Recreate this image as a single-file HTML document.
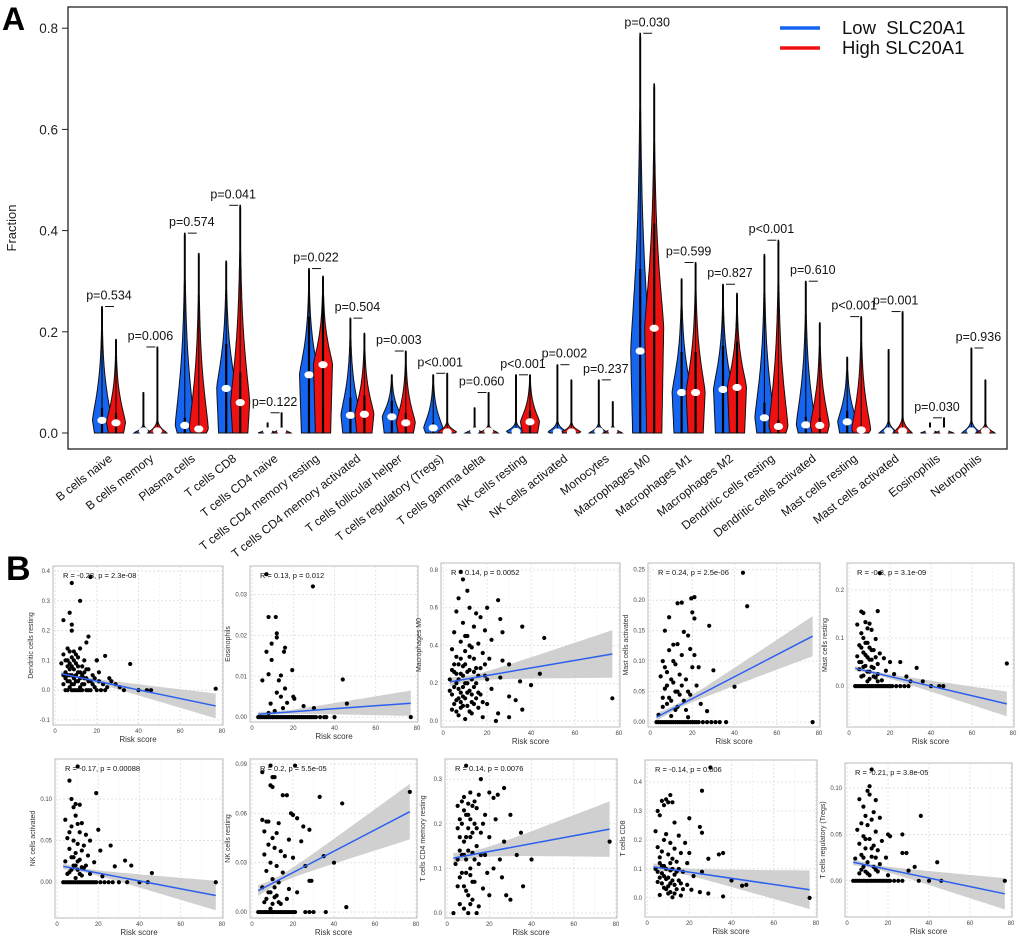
<!DOCTYPE html>
<html><head><meta charset="utf-8"><style>
html,body{margin:0;padding:0;background:#fff;}
svg{display:block;font-family:"Liberation Sans",Arial,sans-serif;}
</style></head><body>
<svg id="fig" width="1020" height="938" viewBox="0 0 1020 938" xmlns="http://www.w3.org/2000/svg">
<g id="panelA"></g>
<g id="panelB"></g>
</svg>
<script>
// ---------- Panel A data ----------
const categories = ["B cells naive","B cells memory","Plasma cells","T cells CD8","T cells CD4 naive","T cells CD4 memory resting","T cells CD4 memory activated","T cells follicular helper","T cells regulatory (Tregs)","T cells gamma delta","NK cells resting","NK cells activated","Monocytes","Macrophages M0","Macrophages M1","Macrophages M2","Dendritic cells resting","Dendritic cells activated","Mast cells resting","Mast cells activated","Eosinophils","Neutrophils"];
const lowMax = [0.25,0.08,0.395,0.34,0.02,0.325,0.227,0.115,0.115,0.05,0.115,0.135,0.105,0.79,0.305,0.294,0.353,0.30,0.15,0.165,0.02,0.168];
const highMax = [0.185,0.17,0.355,0.45,0.04,0.31,0.197,0.162,0.118,0.08,0.115,0.105,0.062,0.69,0.337,0.276,0.381,0.218,0.23,0.24,0.03,0.105];
const lowMedian = [0.025,0,0.015,0.088,0,0.115,0.035,0.032,0.01,0,0.003,0.002,0,0.162,0.08,0.086,0.03,0.016,0.022,0,0,0];
const highMedian = [0.02,0,0.008,0.06,0,0.135,0.037,0.02,0.002,0,0.022,0.002,0,0.207,0.08,0.09,0.013,0.015,0.006,0,0,0];
const pLabels = ["p=0.534","p=0.006","p=0.574","p=0.041","p=0.122","p=0.022","p=0.504","p=0.003","p<0.001","p=0.060","p<0.001","p=0.002","p=0.237","p=0.030","p=0.599","p=0.827","p<0.001","p=0.610","p<0.001","p=0.001","p=0.030","p=0.936"];
const yTicksA = [0,0.2,0.4,0.6,0.8];
const yTickLabelsA = ["0.0","0.2","0.4","0.6","0.8"];

// ---------- Panel B data ----------
const scatterTitles = ["Dendritic cells resting","Eosinophils","Macrophages M0","Mast cells activated","Mast cells resting","NK cells activated","NK cells resting","T cells CD4 memory resting","T cells CD8","T cells regulatory (Tregs)"];
const corrLabels = ["R = -0.28, p = 2.3e-08","R = 0.13, p = 0.012","R = 0.14, p = 0.0052","R = 0.24, p = 2.5e-06","R = -0.3, p = 3.1e-09","R = -0.17, p = 0.00088","R = 0.2, p = 5.5e-05","R = 0.14, p = 0.0076","R = -0.14, p = 0.006","R = -0.21, p = 3.8e-05"];
const yTicksB = [[-0.1,0,0.1,0.2,0.3,0.4],[0,0.01,0.02,0.03],[0,0.2,0.4,0.6,0.8],[0,0.05,0.1,0.15,0.2,0.25],[0,0.1,0.2],[0,0.05,0.1],[0,0.03,0.06,0.09],[0,0.1,0.2,0.3],[0,0.1,0.2,0.3,0.4],[0,0.05,0.1]];
const yTickLabelsB = [["-0.1","0.0","0.1","0.2","0.3","0.4"],["0.00","0.01","0.02","0.03"],["0.0","0.2","0.4","0.6","0.8"],["0.00","0.05","0.10","0.15","0.20","0.25"],["0.0","0.1","0.2"],["0.00","0.05","0.10"],["0.00","0.03","0.06","0.09"],["0.0","0.1","0.2","0.3"],["0.0","0.1","0.2","0.3","0.4"],["0.00","0.05","0.10"]];
const xTicksB = [0,20,40,60,80];
const lineStart = [0.055,0.0007,0.207,0.008,0.037,0.019,0.013,0.123,0.107,0.02];
const lineEnd = [-0.053,0.0034,0.355,0.141,-0.037,-0.016,0.061,0.188,0.028,-0.014];
const bandHalfEnd = [0.047,0.0035,0.142,0.037,0.029,0.02,0.019,0.07,0.075,0.019];
const pts0 = [[4,0.12],[5,0.1],[5,0.06],[6,0.03],[6,0.08],[7,0.01],[7,0.05],[8,0.11],[8,0.02],[9,0.07],[9,0.04],[10,0.0],[10,0.09],[11,0.03],[11,0.06],[12,0.14],[12,0.01],[13,0.05],[13,0.08],[14,0.02],[14,0.1],[15,0.04],[16,0.0],[16,0.07],[17,0.03],[18,0.05],[19,0.01],[20,0.1],[21,0.03],[22,0.0],[23,0.02],[25,0.01],[26,0.04],[27,0.03],[29,0.02],[31,0.01],[33,0.0],[5,0.0],[8,0.0],[12,0.0],[3,0.09],[6,0.14],[10,0.12],[7,0.07],[9,0.02],[11,0.0],[14,0.06],[8,0.36],[17,0.38],[12,0.3],[7,0.26],[4,0.235],[8,0.22],[16,0.18],[15,0.16],[36,0.088],[77,0.005],[40,0],[44,0],[46,0],[24,0.115],[20,0.1],[8,0.2],
  [4,0.02],[5,0.04],[6,0.0],[6,0.05],[7,0.03],[7,0.09],[8,0.05],[8,0.08],[9,0.0],[9,0.1],[10,0.03],[10,0.05],[11,0.08],[11,0.11],[12,0.04],[12,0.06],[13,0.02],[13,0.0],[14,0.04],[15,0.0],[15,0.07],[16,0.03],[17,0.0],[18,0.02],[19,0.04],[20,0.0],[21,0.06],[24,0.0],[4,0.05],[6,0.1],[9,0.13],[7,0.13]];
const pts1 = [[7,0.035],[29.5,0.032],[8,0.0245],[11.5,0.0245],[12,0.0205],[12,0.0195],[9.5,0.018],[16,0.017],[15.5,0.016],[7,0.016],[9.5,0.014],[19.5,0.0115],[8,0.0105],[14,0.0102],[44,0.0092],[5,0.009],[13,0.009],[16,0.007],[12,0.006],[20,0.005],[14,0.005],[20.5,0.0045],[9,0.0033],[17,0.0035],[46,0.0033],[25,0.0027],[30,0.0022],[15,0.0022],[77,0],[40,0],[35,0],[33,0],[3,0],[4,0],[5,0],[6,0],[7,0],[8,0],[9,0],[10,0],[11,0],[12,0],[13,0],[14,0],[15,0],[16,0],[17,0],[18,0],[19,0],[20,0],[21,0],[22,0],[23,0],[24,0],[25,0],[26,0],[27,0],[28,0],[29,0],[30,0],[31,0],[36,0],[8,0.001],[11,0.0015]];
const pts2 = [[8,0.79],[9,0.75],[11,0.69],[7,0.65],[25,0.64],[12,0.6],[20,0.6],[6,0.58],[15,0.57],[17,0.55],[26,0.54],[9,0.52],[14,0.5],[36,0.5],[19,0.48],[5,0.47],[27,0.47],[11,0.45],[46,0.44],[22,0.43],[8,0.42],[16,0.41],[13,0.39],[4,0.38],[10,0.37],[18,0.36],[6,0.34],[21,0.33],[27,0.32],[30,0.3],[9,0.29],[15,0.28],[12,0.27],[5,0.26],[44,0.25],[19,0.24],[26,0.23],[7,0.22],[35,0.21],[40,0.19],[11,0.2],[14,0.18],[3,0.16],[22,0.17],[8,0.15],[17,0.14],[30,0.13],[10,0.12],[6,0.11],[13,0.1],[20,0.09],[77,0.12],[9,0.08],[16,0.07],[4,0.06],[12,0.05],[25,0.04],[7,0.03],[18,0.02],[10,0.01],[24,0.0],[30,0.02],[33,0.11],[36,0.06],[14,0.33],[8,0.25],[11,0.15],[6,0.2],[19,0.3],[13,0.22],[15,0.12],[5,0.09],[9,0.18],[12,0.4],[10,0.3],[16,0.24],
  [4,0.14],[5,0.18],[6,0.05],[7,0.12],[7,0.3],[8,0.07],[8,0.33],[9,0.24],[9,0.13],[10,0.2],[10,0.45],[11,0.26],[11,0.08],[12,0.16],[12,0.34],[13,0.14],[13,0.04],[14,0.26],[14,0.09],[15,0.2],[16,0.15],[17,0.28],[18,0.1],[20,0.22],[5,0.3],[6,0.25],[7,0.17],[3,0.22],[4,0.27],[8,0.1]];
const pts3 = [[44,0.245],[46,0.19],[21,0.205],[19.5,0.203],[13,0.195],[15,0.196],[20,0.18],[21,0.17],[9,0.172],[28,0.158],[7,0.15],[16,0.148],[18,0.142],[11,0.127],[13,0.128],[19,0.12],[9,0.118],[15,0.11],[6,0.1],[12,0.095],[20,0.09],[23,0.09],[30,0.085],[8,0.082],[14,0.078],[5,0.075],[17,0.07],[11,0.065],[22,0.06],[40,0.058],[7,0.055],[13,0.05],[19,0.045],[9,0.04],[16,0.035],[24,0.03],[6,0.025],[12,0.02],[27,0.018],[4,0.012],[10,0.01],[18,0.008],[3,0],[5,0],[7,0],[9,0],[11,0],[13,0],[15,0],[17,0],[19,0],[21,0],[23,0],[25,0],[27,0],[29,0],[31,0],[33,0],[36,0],[77,0],[8,0.03],[14,0.045],[10,0.07],[21,0.11],
  [4,0],[6,0],[8,0],[10,0],[12,0],[14,0],[16,0],[18,0],[20,0],[22,0],[6,0.04],[8,0.06],[10,0.035],[12,0.05],[13,0.025],[15,0.06],[17,0.02],[18,0.05],[7,0.09],[11,0.1]];
const pts4 = [[15,0.235],[14,0.156],[6,0.155],[7,0.152],[8,0.133],[10,0.13],[4,0.128],[9,0.12],[11,0.117],[6,0.11],[13,0.098],[8,0.09],[5,0.085],[10,0.08],[12,0.075],[7,0.07],[15,0.068],[4,0.062],[9,0.06],[17,0.058],[11,0.055],[6,0.05],[20,0.05],[14,0.046],[25,0.05],[8,0.042],[12,0.038],[33,0.038],[5,0.035],[18,0.032],[10,0.03],[22,0.025],[7,0.022],[28,0.02],[13,0.018],[16,0.012],[9,0.01],[30,0.01],[36,0.01],[77,0.047],[3,0],[5,0],[7,0],[9,0],[11,0],[13,0],[15,0],[17,0],[19,0],[21,0],[23,0],[25,0],[27,0],[29,0],[40,0],[44,0],[46,0],[6,0.02],[11,0.04],[14,0.025],
  [4,0],[6,0],[8,0],[10,0],[12,0],[14,0],[16,0],[18,0],[20,0],[5,0.05],[7,0.04],[8,0.065],[9,0.03],[10,0.055],[11,0.075],[12,0.02],[13,0.06],[14,0.01],[6,0.08],[9,0.09],[7,0.1],[10,0.015]];
const pts5 = [[10,0.139],[6,0.122],[19,0.107],[7,0.1],[9,0.094],[11,0.093],[8,0.09],[4,0.075],[9,0.08],[10,0.07],[12,0.071],[7,0.067],[20,0.063],[6,0.06],[11,0.06],[14,0.057],[5,0.053],[8,0.05],[16,0.05],[10,0.046],[13,0.044],[26,0.044],[6,0.04],[12,0.038],[21,0.038],[9,0.035],[15,0.032],[7,0.03],[11,0.027],[33,0.026],[4,0.025],[18,0.024],[8,0.02],[36,0.02],[13,0.017],[10,0.015],[28,0.019],[6,0.012],[16,0.01],[46,0.011],[12,0.008],[22,0.007],[9,0.005],[3,0],[5,0],[7,0],[9,0],[11,0],[13,0],[15,0],[17,0],[19,0],[21,0],[23,0],[25,0],[27,0],[30,0],[34,0],[40,0],[44,0],[77,0],
  [4,0],[6,0],[8,0],[10,0],[12,0],[14,0],[16,0],[18,0],[5,0.01],[7,0.015],[9,0.02],[11,0.01],[14,0.02],[8,0.03],[10,0.025],[12,0.018]];
const pts6 = [[9,0.089],[21,0.089],[5,0.085],[10,0.082],[11,0.082],[9,0.077],[10,0.076],[15,0.071],[17,0.071],[33,0.07],[44,0.066],[19,0.06],[20,0.059],[22,0.057],[5,0.056],[7,0.055],[8,0.055],[13,0.054],[25,0.052],[28,0.05],[6,0.049],[12,0.048],[10,0.045],[18,0.044],[24,0.043],[8,0.041],[11,0.039],[35,0.034],[14,0.037],[6,0.035],[16,0.034],[20,0.033],[40,0.03],[9,0.03],[12,0.028],[26,0.028],[7,0.025],[15,0.024],[28,0.019],[29,0.019],[10,0.02],[13,0.018],[5,0.015],[18,0.014],[8,0.012],[22,0.012],[11,0.009],[17,0.008],[6,0.006],[14,0.005],[46,0.003],[9,0.002],[3,0],[5,0],[7,0],[9,0],[11,0],[13,0],[15,0],[17,0],[19,0],[21,0],[26,0],[28,0],[30,0],[36,0],[77,0.073],
  [4,0],[6,0],[8,0],[10,0],[12,0],[14,0],[16,0],[18,0],[20,0],[7,0.008],[9,0.012],[11,0.015],[13,0.006],[12,0.01],[10,0.005]];
const pts7 = [[9,0.33],[16,0.3],[27,0.28],[11,0.27],[15,0.265],[20,0.27],[24,0.265],[22,0.258],[7,0.25],[10,0.245],[12,0.24],[14,0.235],[8,0.23],[9,0.22],[18,0.22],[6,0.21],[13,0.2],[23,0.21],[30,0.22],[5,0.19],[10,0.19],[16,0.18],[11,0.17],[20,0.17],[8,0.16],[27,0.16],[14,0.15],[6,0.14],[12,0.135],[18,0.13],[33,0.13],[9,0.12],[4,0.11],[15,0.11],[22,0.1],[7,0.09],[11,0.085],[26,0.08],[13,0.07],[5,0.06],[17,0.055],[9,0.05],[20,0.04],[28,0.04],[12,0.03],[6,0.02],[15,0.015],[8,0.01],[10,0.0],[14,0.0],[3,0.0],[30,0.03],[36,0.06],[40,0.12],[77,0.16],[25,0.12],[19,0.09],[35,0.18],
  [5,0.24],[6,0.17],[7,0.2],[8,0.26],[8,0.13],[9,0.17],[10,0.22],[10,0.14],[11,0.21],[11,0.1],[12,0.18],[13,0.25],[13,0.12],[14,0.19],[7,0.13],[6,0.08],[9,0.09],[12,0.07],[8,0.06],[10,0.04],[11,0.02],[16,0.13],[17,0.2],[5,0.12]];
const pts8 = [[30,0.45],[26,0.37],[11,0.355],[7,0.335],[9,0.34],[12,0.33],[8,0.32],[10,0.33],[5,0.3],[6,0.285],[20,0.275],[13,0.26],[25,0.245],[26,0.225],[4,0.23],[9,0.22],[15,0.215],[8,0.2],[11,0.19],[18,0.19],[5,0.175],[13,0.17],[7,0.16],[10,0.15],[16,0.155],[20,0.155],[34,0.15],[36,0.155],[6,0.14],[12,0.135],[29,0.135],[14,0.125],[8,0.11],[19,0.12],[4,0.1],[11,0.095],[17,0.09],[26,0.09],[7,0.085],[13,0.08],[22,0.075],[9,0.065],[15,0.06],[5,0.055],[11,0.05],[19,0.045],[40,0.06],[45,0.042],[47,0.045],[8,0.035],[14,0.03],[21,0.028],[25,0.02],[10,0.015],[29,0.015],[6,0.01],[16,0.008],[12,0.002],[36,0.005],[77,0.0],
  [5,0.09],[6,0.07],[7,0.05],[8,0.075],[9,0.1],[10,0.07],[10,0.04],[11,0.12],[12,0.06],[12,0.1],[13,0.045],[14,0.09],[15,0.1],[16,0.05],[17,0.03],[6,0.12],[7,0.11],[9,0.03],[11,0.02],[13,0.015]];
const pts9 = [[12,0.12],[11,0.102],[10,0.097],[14,0.087],[6,0.088],[11,0.093],[36,0.07],[8,0.08],[13,0.074],[9,0.07],[16,0.068],[12,0.066],[7,0.062],[10,0.06],[5,0.055],[14,0.053],[20,0.05],[21,0.048],[27,0.05],[8,0.048],[11,0.045],[17,0.043],[6,0.04],[13,0.038],[9,0.035],[15,0.033],[27,0.03],[29,0.03],[7,0.028],[12,0.026],[19,0.025],[4,0.024],[10,0.02],[44,0.02],[16,0.018],[8,0.015],[33,0.015],[14,0.012],[30,0.011],[6,0.008],[11,0.006],[20,0.006],[3,0],[5,0],[7,0],[9,0],[11,0],[13,0],[15,0],[17,0],[19,0],[21,0],[23,0],[25,0],[27,0],[35,0],[40,0],[46,0],[77,0],[9,0.01],[13,0.015],
  [4,0],[6,0],[8,0],[10,0],[12,0],[14,0],[16,0],[18,0],[20,0],[7,0.012],[8,0.025],[10,0.008],[12,0.035],[14,0.025],[15,0.01],[9,0.045]];
const scatterPoints = [pts0,pts1,pts2,pts3,pts4,pts5,pts6,pts7,pts8,pts9];
const yDomainsB = [[-0.117,0.417],[-0.0012,0.037],[-0.032,0.837],[-0.008,0.261],[-0.085,0.256],[-0.043,0.148],[-0.0036,0.093],[-0.011,0.345],[-0.066,0.476],[-0.039,0.127]];

const NS = "http://www.w3.org/2000/svg";
function mk(tag, attrs, parent){ const e=document.createElementNS(NS,tag); for(const k in attrs) e.setAttribute(k,attrs[k]); if(parent) parent.appendChild(e); return e; }

// ---------- Panel A ----------
(function(){
  const g = document.getElementById('panelA');
  const plotL=68, plotR=1007, plotT=7, plotB=449;
  const y0px=433, pxPerUnit=506;
  const yA = v => y0px - v*pxPerUnit;
  const xCat = i => 109 + i*41.4;
  const frame = mk('rect',{x:plotL,y:plotT,width:plotR-plotL,height:plotB-plotT,fill:'none',stroke:'#222','stroke-width':1.3},g);
   
  const lab = mk('text',{x:2,y:30,'font-size':32,'font-weight':'bold'},g); lab.textContent='A';
   
  yTicksA.forEach((t,i)=>{
    mk('line',{x1:plotL-6,x2:plotL,y1:yA(t),y2:yA(t),stroke:'#222'},g);
    const tx = mk('text',{x:plotL-10,y:yA(t)+5,'font-size':13.5,'text-anchor':'end',fill:'#222'},g);
    tx.textContent = yTickLabelsA[i];
     
  });
  const yt = mk('text',{x:16,y:228,'font-size':13,'text-anchor':'middle',transform:'rotate(-90 16 228)',fill:'#222'},g);
  yt.textContent='Fraction';  

  function violin(cx, max, med, color, name){
    const W=9.5;
    const s = (max-med)*0.33*(med>0.005?1:0.12)+0.004;
    const steps=80; let right=[], left=[];
    for(let k=0;k<=steps;k++){
      const v = max*k/steps;
      let w;
      if(v<=med) w = W*(0.8+0.2*(med>0?v/med:1));
      else w = W*Math.exp(-Math.pow((v-med)/s,1.3));
      w = Math.max(w,0.5);
      if(k===steps) w=0.3;
      right.push([cx+w,yA(v)]); left.push([cx-w,yA(v)]);
    }
    let d='M'+right.map(p=>p[0].toFixed(1)+','+p[1].toFixed(1)).join(' L');
    d+=' L'+left.reverse().map(p=>p[0].toFixed(1)+','+p[1].toFixed(1)).join(' L')+' Z';
    const p = mk('path',{d:d,fill:color,stroke:'#111','stroke-width':1},g);
     
    mk('line',{x1:cx,x2:cx,y1:yA(0),y2:yA(max),stroke:'#000','stroke-width':1},g);
    if(med>0){
      mk('line',{x1:cx,x2:cx,y1:yA(0),y2:yA(Math.min(max,med*2)),stroke:'#000','stroke-width':2.2},g);
    }
    const dot = mk('ellipse',{cx:cx,cy:yA(med)-(med>0?0:2),rx:4.6,ry:3.6,fill:'#fff'},g);
     
  }
  categories.forEach((c,i)=>{
    const cx = xCat(i), bx=cx-7, rx=cx+7;
    violin(bx, lowMax[i], lowMedian[i], '#1565f0', 'violin-low-'+i);
    violin(rx, highMax[i], highMedian[i], '#ee1111', 'violin-high-'+i);
    const top = Math.max(lowMax[i],highMax[i]);
    const by = yA(top);
    const br = mk('line',{x1:bx+3,x2:rx-2,y1:by,y2:by,stroke:'#111','stroke-width':1},g);
     
    const pt = mk('text',{x:cx,y:by-7,'font-size':12.5,'text-anchor':'middle',fill:'#111'},g);
    pt.textContent = pLabels[i];
     
    const xl = mk('text',{x:cx+4,y:460,'font-size':12,'text-anchor':'end',fill:'#111',transform:'rotate(-38 '+(cx+4)+' 460)'},g);
    xl.textContent = c;
     
  });
  const lg = mk('g',{},g);  
  mk('line',{x1:780,x2:820,y1:28,y2:28,stroke:'#1565f0','stroke-width':3.5},lg);
  mk('line',{x1:780,x2:820,y1:48,y2:48,stroke:'#ee1111','stroke-width':3.5},lg);
  const l1 = mk('text',{x:842,y:34,'font-size':18.5,fill:'#111'},lg); l1.textContent='Low\u00a0\u00a0SLC20A1';
   
  const l2 = mk('text',{x:842,y:54,'font-size':18.5,fill:'#111'},lg); l2.textContent='High SLC20A1';
   
})();

// ---------- Panel B ----------
(function(){
  const g = document.getElementById('panelB');
  const lab = mk('text',{x:6,y:580,'font-size':34,'font-weight':'bold'},g); lab.textContent='B';
   
  const frames = [[53,566,223,725],[250,566,418,722],[441,563,620,727],[648,563,820,727],[847,563,1014,727],
                  [55,759,223,918],[250,759,417,918],[445,759,617,918],[645,760,817,917],[845,763,1012,917]];
  const xMin=-1, xMax=80.5;
  frames.forEach((f,i)=>{
    const [L,T,R,B]=f;
    const sg = mk('g',{},g);  
    const xs = x => L + (x-xMin)/(xMax-xMin)*(R-L);
    const [ymin,ymax]=yDomainsB[i];
    const ys = y => B - (y-ymin)/(ymax-ymin)*(B-T);
    mk('rect',{x:L,y:T,width:R-L,height:B-T,fill:'#fff',stroke:'#bbb','stroke-width':1},sg);
    xTicksB.forEach((t,k)=>{
      mk('line',{x1:xs(t),x2:xs(t),y1:T,y2:B,stroke:'#ddd','stroke-width':0.8,'stroke-dasharray':'2,2'},sg);
      if(k<xTicksB.length-1) mk('line',{x1:xs(t+10),x2:xs(t+10),y1:T,y2:B,stroke:'#eee','stroke-width':0.6,'stroke-dasharray':'2,2'},sg);
      const tl = mk('text',{x:xs(t),y:B+8,'font-size':6,'text-anchor':'middle',fill:'#444'},sg);
      tl.textContent = String(t);
       
    });
    yTicksB[i].forEach((t,k)=>{
      mk('line',{x1:L,x2:R,y1:ys(t),y2:ys(t),stroke:'#ddd','stroke-width':0.8,'stroke-dasharray':'2,2'},sg);
      const tl = mk('text',{x:L-3,y:ys(t)+2,'font-size':6,'text-anchor':'end',fill:'#444'},sg);
      tl.textContent = yTickLabelsB[i][k];
       
    });
    const xt = mk('text',{x:(L+R)/2,y:B+17,'font-size':8,'text-anchor':'middle',fill:'#333'},sg);
    xt.textContent='Risk score';  
    const ycx=L-20, ycy=(T+B)/2;
    const yt = mk('text',{x:ycx,y:ycy,'font-size':7,'text-anchor':'middle',fill:'#333',transform:'rotate(-90 '+ycx+' '+ycy+')'},sg);
    yt.textContent=scatterTitles[i];  
    const x0=3, x1=77, xm=12;
    const lineY = x => lineStart[i] + (lineEnd[i]-lineStart[i])*(x-x0)/(x1-x0);
    const hwMin = bandHalfEnd[i]*0.12;
    const hw = x => Math.sqrt(hwMin*hwMin + Math.pow(bandHalfEnd[i]-hwMin,2)*Math.pow((x-xm)/(x1-xm),2));
    let up=[], lo=[];
    for(let k=0;k<=40;k++){ const x=x0+(x1-x0)*k/40; up.push(xs(x).toFixed(1)+','+ys(lineY(x)+hw(x)).toFixed(1)); lo.push(xs(x).toFixed(1)+','+ys(lineY(x)-hw(x)).toFixed(1)); }
    const band = mk('path',{d:'M'+up.join(' L')+' L'+lo.reverse().join(' L')+' Z',fill:'#c8c8c8','fill-opacity':0.85},sg);
     
    scatterPoints[i].forEach(p=>{
      const c = mk('circle',{cx:xs(p[0]),cy:ys(p[1]),r:2.1,fill:'#000'},sg);
       
    });
    const rl = mk('line',{x1:xs(x0),y1:ys(lineY(x0)),x2:xs(x1),y2:ys(lineY(x1)),stroke:'#2a5ff0','stroke-width':1.5},sg);
     
    const ct = mk('text',{x:L+10,y:T+12,'font-size':7.5,fill:'#111'},sg);
    ct.textContent = corrLabels[i];  
  });
})();
</script>
</body></html>
